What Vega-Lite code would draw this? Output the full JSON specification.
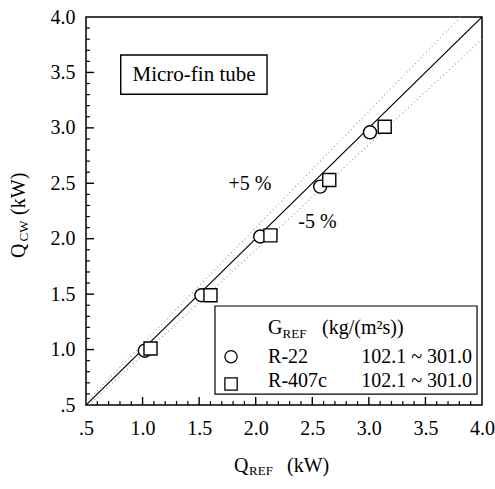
{
  "$schema": "https://vega.github.io/schema/vega-lite/v6.json",
  "width": 396,
  "height": 388,
  "autosize": {"type": "none"},
  "padding": {"left": 86, "top": 17, "right": 13, "bottom": 84},
  "background": "white",
  "config": {
    "font": "Liberation Serif",
    "view": {"stroke": "black", "strokeWidth": 1.5},
    "text": {"color": "black", "font": "Liberation Serif"},
    "scale": {"continuousPadding": 0},
    "axis": {
      "grid": false, "domain": false, "ticks": false,
      "labelFontSize": 20, "labelColor": "black", "labelFont": "Liberation Serif",
      "labelOverlap": false, "labelFlush": false
    }
  },
  "resolve": {"axis": {"x": "independent", "y": "independent"}},
  "datasets": {
    "pts": [
      {"ref": "R-22", "qref": 1.02, "qcw": 0.99},
      {"ref": "R-22", "qref": 1.52, "qcw": 1.49},
      {"ref": "R-22", "qref": 2.04, "qcw": 2.02},
      {"ref": "R-22", "qref": 2.57, "qcw": 2.47},
      {"ref": "R-22", "qref": 3.01, "qcw": 2.96},
      {"ref": "R-407c", "qref": 1.07, "qcw": 1.01},
      {"ref": "R-407c", "qref": 1.6, "qcw": 1.49},
      {"ref": "R-407c", "qref": 2.13, "qcw": 2.03},
      {"ref": "R-407c", "qref": 2.65, "qcw": 2.53},
      {"ref": "R-407c", "qref": 3.14, "qcw": 3.01}
    ],
    "refs": [
      {"k": "diag", "x": 0.5, "y": 0.5},
      {"k": "diag", "x": 4.0, "y": 4.0},
      {"k": "plus5", "x": 0.5, "y": 0.525},
      {"k": "plus5", "x": 3.81, "y": 4.0},
      {"k": "minus5", "x": 0.526, "y": 0.5},
      {"k": "minus5", "x": 4.0, "y": 3.8}
    ],
    "majorTicks": [{"v": 1.0}, {"v": 1.5}, {"v": 2.0}, {"v": 2.5}, {"v": 3.0}, {"v": 3.5}],
    "minorTicks": [{"v":0.6},{"v":0.7},{"v":0.8},{"v":0.9},{"v":1.1},{"v":1.2},{"v":1.3},{"v":1.4},{"v":1.6},{"v":1.7},{"v":1.8},{"v":1.9},{"v":2.1},{"v":2.2},{"v":2.3},{"v":2.4},{"v":2.6},{"v":2.7},{"v":2.8},{"v":2.9},{"v":3.1},{"v":3.2},{"v":3.3},{"v":3.4},{"v":3.6},{"v":3.7},{"v":3.8},{"v":3.9}]
  },
  "data": {"values": [{}]},
  "layer": [
    {
      "data": {"name": "refs"},
      "transform": [{"filter": "datum.k == 'diag'"}],
      "mark": {"type": "line", "color": "black", "strokeWidth": 1.2, "clip": true},
      "encoding": {
        "x": {"field": "x", "type": "quantitative", "axis": null,
          "scale": {"domain": [0.5, 4.0], "nice": false, "zero": false, "padding": 0}},
        "y": {"field": "y", "type": "quantitative", "axis": null,
          "scale": {"domain": [0.5, 4.0], "nice": false, "zero": false, "padding": 0}}
      }
    },
    {
      "data": {"name": "refs"},
      "transform": [{"filter": "datum.k != 'diag'"}],
      "mark": {"type": "line", "color": "#999999", "strokeWidth": 1.1, "strokeDash": [1, 3], "clip": true},
      "encoding": {
        "x": {"field": "x", "type": "quantitative", "axis": null},
        "y": {"field": "y", "type": "quantitative", "axis": null},
        "detail": {"field": "k"}
      }
    },
    {
      "data": {"name": "majorTicks"},
      "mark": {"type": "bar", "width": 1.4, "color": "black", "opacity": 1},
      "encoding": {
        "x": {"field": "v", "type": "quantitative", "axis": null},
        "y": {"datum": 0.5, "type": "quantitative", "axis": null},
        "y2": {"datum": 0.572}
      }
    },
    {
      "data": {"name": "minorTicks"},
      "mark": {"type": "bar", "width": 1.2, "color": "black", "opacity": 1},
      "encoding": {
        "x": {"field": "v", "type": "quantitative", "axis": null},
        "y": {"datum": 0.5, "type": "quantitative", "axis": null},
        "y2": {"datum": 0.536}
      }
    },
    {
      "data": {"name": "majorTicks"},
      "mark": {"type": "bar", "height": 1.4, "color": "black", "opacity": 1},
      "encoding": {
        "y": {"field": "v", "type": "quantitative", "axis": null},
        "x": {"datum": 0.5, "type": "quantitative", "axis": null},
        "x2": {"datum": 0.571}
      }
    },
    {
      "data": {"name": "minorTicks"},
      "mark": {"type": "bar", "height": 1.2, "color": "black", "opacity": 1},
      "encoding": {
        "y": {"field": "v", "type": "quantitative", "axis": null},
        "x": {"datum": 0.5, "type": "quantitative", "axis": null},
        "x2": {"datum": 0.535}
      }
    },
    {
      "data": {"name": "pts"},
      "mark": {"type": "point", "filled": true, "fill": "white", "stroke": "black", "strokeWidth": 1.4, "size": 170, "opacity": 1},
      "encoding": {
        "x": {"field": "qref", "type": "quantitative", "title": null,
          "axis": {"orient": "bottom", "labelPadding": 13, "title": null,
            "values": [0.5, 1.0, 1.5, 2.0, 2.5, 3.0, 3.5, 4.0],
            "labelExpr": "datum.value < 0.6 ? '.5' : format(datum.value, '.1f')"}},
        "y": {"field": "qcw", "type": "quantitative", "title": null,
          "axis": {"orient": "left", "labelPadding": 11, "title": null,
            "values": [0.5, 1.0, 1.5, 2.0, 2.5, 3.0, 3.5, 4.0],
            "labelExpr": "datum.value < 0.6 ? '.5' : format(datum.value, '.1f')"}},
        "shape": {"field": "ref", "type": "nominal", "scale": {"domain": ["R-22", "R-407c"], "range": ["circle", "square"]}, "legend": null}
      }
    },
    {
      "mark": {"type": "rect", "fill": "white", "stroke": "black", "strokeWidth": 1.4},
      "encoding": {
        "x": {"datum": 0.807, "type": "quantitative", "axis": null}, "x2": {"datum": 2.1},
        "y": {"datum": 3.657, "type": "quantitative", "axis": null}, "y2": {"datum": 3.303}
      }
    },
    {
      "mark": {"type": "text", "text": "Micro-fin tube", "fontSize": 21, "align": "center", "baseline": "middle"},
      "encoding": {
        "x": {"datum": 1.455, "type": "quantitative", "axis": null},
        "y": {"datum": 3.477, "type": "quantitative", "axis": null}
      }
    },
    {
      "mark": {"type": "text", "text": "+5 %", "fontSize": 20, "align": "center", "baseline": "middle"},
      "encoding": {
        "x": {"datum": 1.95, "type": "quantitative", "axis": null},
        "y": {"datum": 2.494, "type": "quantitative", "axis": null}
      }
    },
    {
      "mark": {"type": "text", "text": "-5 %", "fontSize": 20, "align": "center", "baseline": "middle"},
      "encoding": {
        "x": {"datum": 2.546, "type": "quantitative", "axis": null},
        "y": {"datum": 2.151, "type": "quantitative", "axis": null}
      }
    },
    {
      "mark": {"type": "rect", "fill": "white", "stroke": "black", "strokeWidth": 1.2},
      "encoding": {
        "x": {"datum": 1.64, "type": "quantitative", "axis": null}, "x2": {"datum": 3.956},
        "y": {"datum": 1.393, "type": "quantitative", "axis": null}, "y2": {"datum": 0.599}
      }
    },
    {
      "mark": {"type": "text", "text": "G", "fontSize": 20, "align": "left", "baseline": "alphabetic"},
      "encoding": {
        "x": {"datum": 2.109, "type": "quantitative", "axis": null},
        "y": {"datum": 1.1405, "type": "quantitative", "axis": null}
      }
    },
    {
      "mark": {"type": "text", "text": "REF", "fontSize": 13, "align": "left", "baseline": "alphabetic"},
      "encoding": {
        "x": {"datum": 2.237, "type": "quantitative", "axis": null},
        "y": {"datum": 1.104, "type": "quantitative", "axis": null}
      }
    },
    {
      "mark": {"type": "text", "text": "(kg/(m²s))", "fontSize": 20, "align": "left", "baseline": "alphabetic"},
      "encoding": {
        "x": {"datum": 2.586, "type": "quantitative", "axis": null},
        "y": {"datum": 1.1405, "type": "quantitative", "axis": null}
      }
    },
    {
      "mark": {"type": "point", "shape": "circle", "filled": true, "fill": "white", "stroke": "black", "strokeWidth": 1.3, "size": 150, "opacity": 1},
      "encoding": {
        "x": {"datum": 1.782, "type": "quantitative", "axis": null},
        "y": {"datum": 0.936, "type": "quantitative", "axis": null}
      }
    },
    {
      "mark": {"type": "point", "shape": "square", "filled": true, "fill": "white", "stroke": "black", "strokeWidth": 1.3, "size": 150, "opacity": 1},
      "encoding": {
        "x": {"datum": 1.782, "type": "quantitative", "axis": null},
        "y": {"datum": 0.69, "type": "quantitative", "axis": null}
      }
    },
    {
      "mark": {"type": "text", "text": "R-22", "fontSize": 20, "align": "left", "baseline": "alphabetic"},
      "encoding": {
        "x": {"datum": 2.109, "type": "quantitative", "axis": null},
        "y": {"datum": 0.879, "type": "quantitative", "axis": null}
      }
    },
    {
      "mark": {"type": "text", "text": "R-407c", "fontSize": 20, "align": "left", "baseline": "alphabetic"},
      "encoding": {
        "x": {"datum": 2.109, "type": "quantitative", "axis": null},
        "y": {"datum": 0.662, "type": "quantitative", "axis": null}
      }
    },
    {
      "mark": {"type": "text", "text": "102.1 ~ 301.0", "fontSize": 20, "align": "right", "baseline": "alphabetic"},
      "encoding": {
        "x": {"datum": 3.912, "type": "quantitative", "axis": null},
        "y": {"datum": 0.879, "type": "quantitative", "axis": null}
      }
    },
    {
      "mark": {"type": "text", "text": "102.1 ~ 301.0", "fontSize": 20, "align": "right", "baseline": "alphabetic"},
      "encoding": {
        "x": {"datum": 3.912, "type": "quantitative", "axis": null},
        "y": {"datum": 0.662, "type": "quantitative", "axis": null}
      }
    },
    {
      "mark": {"type": "text", "text": "Q", "fontSize": 20, "align": "left", "baseline": "alphabetic", "dy": 67},
      "encoding": {
        "x": {"datum": 1.808, "type": "quantitative", "axis": null},
        "y": {"datum": 0.5, "type": "quantitative", "axis": null}
      }
    },
    {
      "mark": {"type": "text", "text": "REF", "fontSize": 13, "align": "left", "baseline": "alphabetic", "dy": 70},
      "encoding": {
        "x": {"datum": 1.941, "type": "quantitative", "axis": null},
        "y": {"datum": 0.5, "type": "quantitative", "axis": null}
      }
    },
    {
      "mark": {"type": "text", "text": "(kW)", "fontSize": 20, "align": "left", "baseline": "alphabetic", "dy": 67},
      "encoding": {
        "x": {"datum": 2.277, "type": "quantitative", "axis": null},
        "y": {"datum": 0.5, "type": "quantitative", "axis": null}
      }
    },
    {
      "mark": {"type": "text", "text": "Q", "fontSize": 20, "align": "left", "baseline": "alphabetic", "angle": 270, "dy": -61},
      "encoding": {
        "x": {"datum": 0.5, "type": "quantitative", "axis": null},
        "y": {"datum": 1.826, "type": "quantitative", "axis": null}
      }
    },
    {
      "mark": {"type": "text", "text": "CW", "fontSize": 13, "align": "left", "baseline": "alphabetic", "angle": 270, "dy": -58},
      "encoding": {
        "x": {"datum": 0.5, "type": "quantitative", "axis": null},
        "y": {"datum": 1.975, "type": "quantitative", "axis": null}
      }
    },
    {
      "mark": {"type": "text", "text": "(kW)", "fontSize": 20, "align": "left", "baseline": "alphabetic", "angle": 270, "dy": -61},
      "encoding": {
        "x": {"datum": 0.5, "type": "quantitative", "axis": null},
        "y": {"datum": 2.215, "type": "quantitative", "axis": null}
      }
    }
  ]
}
